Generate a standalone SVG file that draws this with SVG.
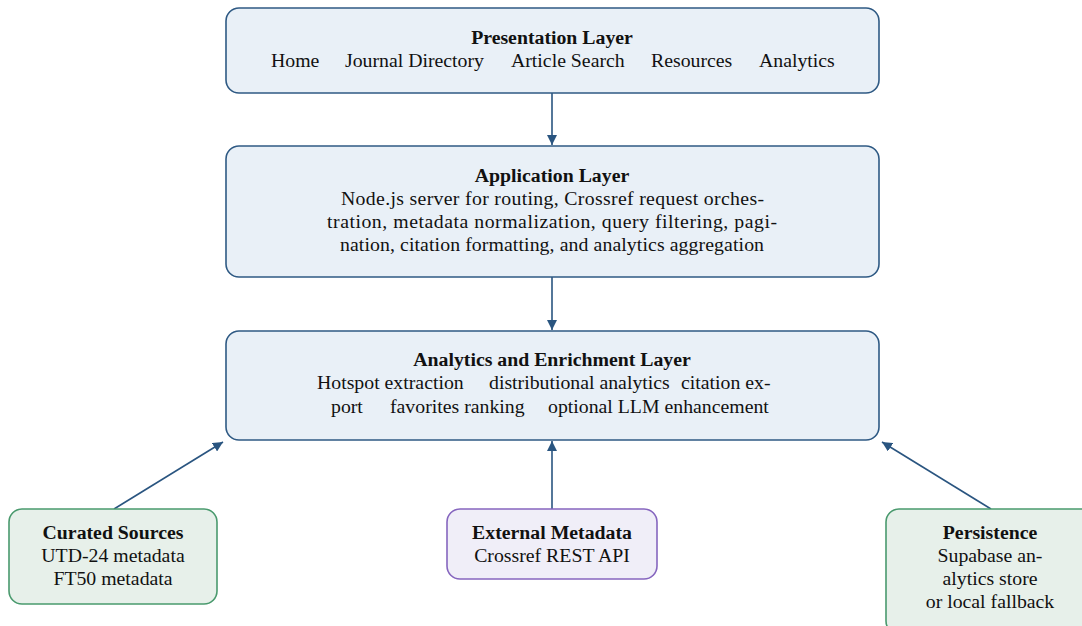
<svg xmlns="http://www.w3.org/2000/svg" width="1082" height="626" viewBox="0 0 1082 626">
<defs>
<marker id="ah" viewBox="0 0 10 10" refX="10" refY="5" markerWidth="10" markerHeight="10" markerUnits="userSpaceOnUse" orient="auto">
<path d="M0,0 L10,5 L0,10 Z" fill="#2a5580"/>
</marker>
<style>
text{font-family:"Liberation Serif","Times New Roman",serif;font-size:19.8px;fill:#111}
.t{font-weight:bold}
.c{text-anchor:middle}
.blue{fill:#e9f0f7;stroke:#2f5a84;stroke-width:1.6}
.green{fill:#e7f0ea;stroke:#4a9a6e;stroke-width:1.6}
.purple{fill:#f0eef8;stroke:#8666bf;stroke-width:1.6}
.conn{stroke:#2a5580;stroke-width:1.6;fill:none;marker-end:url(#ah)}
</style>
</defs>
<g id="connectors">
<line class="conn" x1="552" y1="93" x2="552" y2="145"/>
<line class="conn" x1="552" y1="277" x2="552" y2="330"/>
<line class="conn" x1="552" y1="509" x2="552" y2="441"/>
<line class="conn" x1="114" y1="509" x2="223" y2="442"/>
<line class="conn" x1="991" y1="509" x2="882" y2="442"/>
</g>
<g id="presentation">
<rect class="blue" x="226" y="8" width="653" height="85" rx="13"/>
<text class="t c" x="552" y="44">Presentation Layer</text>
<text x="271" y="67">Home</text>
<text x="345" y="67">Journal Directory</text>
<text x="511" y="67">Article Search</text>
<text x="651" y="67">Resources</text>
<text x="759" y="67">Analytics</text>
</g>
<g id="application">
<rect class="blue" x="226" y="146" width="653" height="131" rx="13"/>
<text class="t c" x="552" y="182">Application Layer</text>
<text x="341" y="205" textLength="423" lengthAdjust="spacing">Node.js server for routing, Crossref request orches-</text>
<text x="327" y="228" textLength="450" lengthAdjust="spacing">tration, metadata normalization, query filtering, pagi-</text>
<text x="340" y="251" textLength="424" lengthAdjust="spacing">nation, citation formatting, and analytics aggregation</text>
</g>
<g id="analytics">
<rect class="blue" x="226" y="331" width="653" height="109" rx="13"/>
<text class="t c" x="552" y="366">Analytics and Enrichment Layer</text>
<text x="317" y="389">Hotspot extraction</text>
<text x="489" y="389">distributional analytics</text>
<text x="681" y="389">citation ex-</text>
<text x="331" y="413">port</text>
<text x="390" y="413">favorites ranking</text>
<text x="548" y="413">optional LLM enhancement</text>
</g>
<g id="curated">
<rect class="green" x="9" y="509" width="208" height="95" rx="13"/>
<text class="t c" x="113" y="539">Curated Sources</text>
<text class="c" x="113" y="562">UTD-24 metadata</text>
<text class="c" x="113" y="585">FT50 metadata</text>
</g>
<g id="external">
<rect class="purple" x="447" y="509" width="210" height="70" rx="13"/>
<text class="t c" x="552" y="539">External Metadata</text>
<text class="c" x="552" y="562">Crossref REST API</text>
</g>
<g id="persistence">
<rect class="green" x="886" y="509" width="210" height="125" rx="13"/>
<text class="t c" x="990" y="539">Persistence</text>
<text class="c" x="990" y="562">Supabase an-</text>
<text class="c" x="990" y="585">alytics store</text>
<text class="c" x="990" y="608">or local fallback</text>
</g>
</svg>
